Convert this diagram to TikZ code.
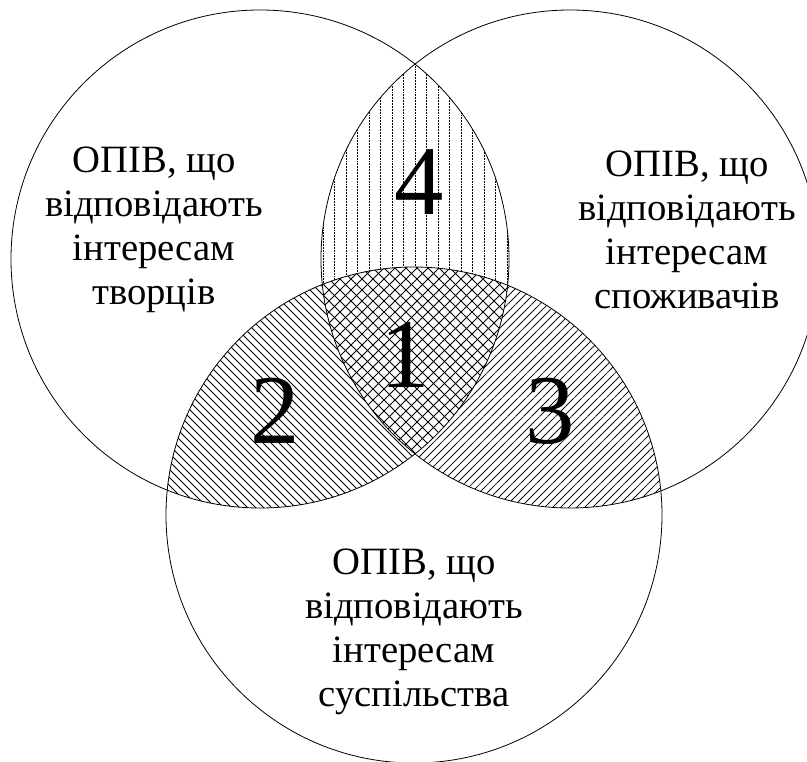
\documentclass[tikz,border=0pt]{standalone}
\usepackage{fontspec}
\setmainfont{Liberation Serif}
\begin{document}
\begin{tikzpicture}[x=0.75pt,y=0.75pt,
  ring/.style={draw=black, line width=0.6pt},
  hatchv/.style={line width=0.55pt, dash pattern=on 0.7pt off 0.45pt},
  hatchd/.style={line width=0.55pt},
  hatchdd/.style={line width=0.55pt, dash pattern=on 0.9pt off 0.3pt},
  blocktext/.style={font=\fontsize{29}{33}\selectfont, align=center, inner sep=0pt},
  digit/.style={font=\fontsize{74}{74}\selectfont, inner sep=0pt}]
\useasboundingbox (0,0) rectangle (807,-761);
\coordinate (L) at (260,-259);
\coordinate (R) at (570,-259);
\coordinate (B) at (414,-515);
% region 4: left & right
\begin{scope}
  \clip (L) circle (249);
  \clip (R) circle (249);
  \foreach \x in {300,311.5,...,530} \draw[hatchv] (\x,0) -- (\x,-520);
\end{scope}
% region 2: left & bottom
\begin{scope}
  \clip (L) circle (249);
  \clip (B) circle (248);
  \foreach \x in {-500,-492,...,700} \draw[hatchd] (\x,0) -- ++(800,-800);
\end{scope}
% region 3: right & bottom
\begin{scope}
  \clip (R) circle (249);
  \clip (B) circle (248);
  \foreach \x in {-500,-492,...,1000} \draw[hatchdd] (\x,-800) -- ++(800,800);
\end{scope}
% region 1: all three
\begin{scope}
  \clip (L) circle (249);
  \clip (R) circle (249);
  \clip (B) circle (248);
  \fill[white] (0,0) rectangle (807,-761);
  \foreach \x in {-500,-489,...,1000} {
    \draw[hatchd] (\x,0) -- ++(800,-800);
    \draw[hatchd] (\x,-800) -- ++(800,800);
  }
\end{scope}
% circles
\draw[ring] (L) circle (249);
\draw[ring] (R) circle (249);
\draw[ring] (B) circle (248);
% digits
\node[digit] (n4) at (419,-182) {4};
\node[digit] (n1) at (405,-355) {1};
\node[digit] (n2) at (275,-411) {2};
\node[digit] (n3) at (550,-411) {3};
% texts
\node[blocktext] (tl) at (154,-230) {ОПІВ, що\\відповідають\\інтересам\\творців};
\node[blocktext] (tr) at (687,-230) {ОПІВ, що\\відповідають\\інтересам\\споживачів};
\node[blocktext] (tb) at (414,-632) {ОПІВ, що\\відповідають\\інтересам\\суспільства};
\end{tikzpicture}
\end{document}
